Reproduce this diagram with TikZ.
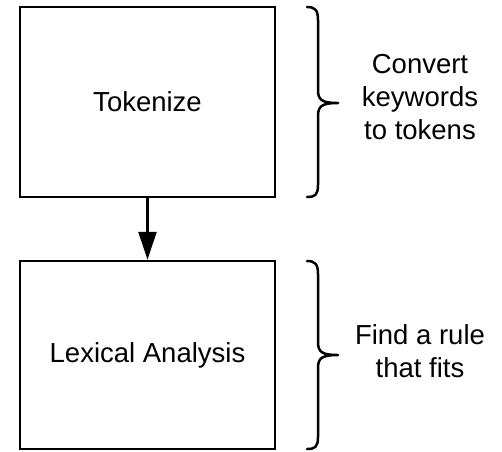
\documentclass[tikz,border=0pt]{standalone}
\usepackage{fontspec}
\setmainfont{Liberation Sans}
\usetikzlibrary{arrows.meta}
\begin{document}
\begin{tikzpicture}[x=1pt,y=-1pt,
  box/.style={draw=black,line width=2.5pt,minimum width=255pt,inner sep=0pt,font=\fontsize{27.5}{33}\selectfont},
  lbl/.style={align=center,inner sep=0pt,font=\fontsize{27.5}{33}\selectfont},
  brace/.style={draw=black,line width=2.5pt,line cap=round,line join=round},
  conn/.style={draw=black,line width=2.5pt,-{Triangle[length=28pt,width=18pt]}}]
\useasboundingbox (0,0) rectangle (502,451);
\node[box,minimum height=190pt] (tok) at (147.5,102) {Tokenize};
\node[box,minimum height=188pt] (lex) at (147.5,355) {Lexical Analysis};
\draw[conn] (tok.south) -- (lex.north);
\node[lbl] (l1) at (420,97) {Convert\\keywords\\to tokens};
\node[lbl] (l2) at (420,351) {Find a rule\\that fits};
\draw[brace] (307,7) .. controls (315,7) and (318,10) .. (318,20) -- (318,90)
  .. controls (318,100) and (322,103) .. (338,103)
  .. controls (322,103) and (318,106) .. (318,116) -- (318,185)
  .. controls (318,195) and (315,197) .. (307,197);
\draw[brace] (307,261) .. controls (315,261) and (318,264) .. (318,274) -- (318,342)
  .. controls (318,352) and (322,355) .. (338,355)
  .. controls (322,355) and (318,358) .. (318,368) -- (318,437)
  .. controls (318,447) and (315,449) .. (307,449);
\end{tikzpicture}
\end{document}
